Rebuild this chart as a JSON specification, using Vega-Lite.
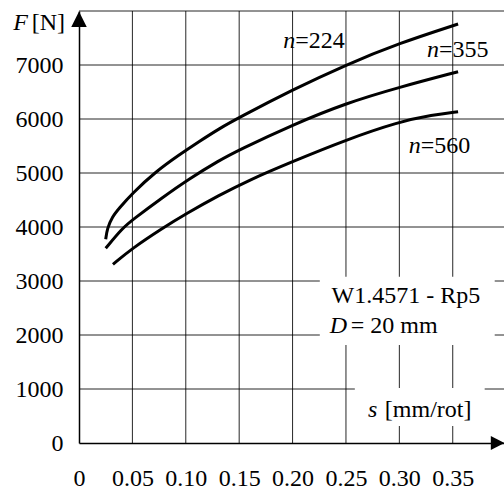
{
  "$schema": "https://vega.github.io/schema/vega-lite/v6.json",
  "width": 425,
  "height": 432,
  "autosize": {"type": "none"},
  "padding": {"left": 79, "top": 11, "right": 0, "bottom": 52},
  "background": "white",
  "view": {"stroke": null},
  "config": {
    "font": "Liberation Serif",
    "axis": {"labelFont": "Liberation Serif", "grid": false}
  },
  "datasets": {
    "gridx": [
      {"s": 0.05}, {"s": 0.1}, {"s": 0.15}, {"s": 0.2}, {"s": 0.25}, {"s": 0.3}, {"s": 0.35}
    ],
    "gridy": [
      {"F": 1000}, {"F": 2000}, {"F": 3000}, {"F": 4000}, {"F": 5000}, {"F": 6000}, {"F": 7000}, {"F": 8000}
    ],
    "curves": [
      {"n": "224", "s": 0.025, "F": 3772},
      {"n": "224", "s": 0.0265, "F": 3976},
      {"n": "224", "s": 0.0312, "F": 4191},
      {"n": "224", "s": 0.0375, "F": 4346},
      {"n": "224", "s": 0.0499, "F": 4624},
      {"n": "224", "s": 0.0718, "F": 5024},
      {"n": "224", "s": 0.0936, "F": 5333},
      {"n": "224", "s": 0.1123, "F": 5580},
      {"n": "224", "s": 0.131, "F": 5818},
      {"n": "224", "s": 0.1497, "F": 6024},
      {"n": "224", "s": 0.1996, "F": 6537},
      {"n": "224", "s": 0.2496, "F": 7000},
      {"n": "224", "s": 0.2996, "F": 7402},
      {"n": "224", "s": 0.355, "F": 7759},
      {"n": "355", "s": 0.025, "F": 3606},
      {"n": "355", "s": 0.0405, "F": 3976},
      {"n": "355", "s": 0.0499, "F": 4130},
      {"n": "355", "s": 0.078, "F": 4545},
      {"n": "355", "s": 0.103, "F": 4890},
      {"n": "355", "s": 0.131, "F": 5230},
      {"n": "355", "s": 0.1497, "F": 5426},
      {"n": "355", "s": 0.1996, "F": 5889},
      {"n": "355", "s": 0.2496, "F": 6291},
      {"n": "355", "s": 0.2996, "F": 6587},
      {"n": "355", "s": 0.355, "F": 6876},
      {"n": "560", "s": 0.0318, "F": 3309},
      {"n": "560", "s": 0.0499, "F": 3606},
      {"n": "560", "s": 0.078, "F": 3976},
      {"n": "560", "s": 0.0998, "F": 4241},
      {"n": "560", "s": 0.131, "F": 4585},
      {"n": "560", "s": 0.1593, "F": 4870},
      {"n": "560", "s": 0.1996, "F": 5209},
      {"n": "560", "s": 0.2496, "F": 5611},
      {"n": "560", "s": 0.2996, "F": 5950},
      {"n": "560", "s": 0.3308, "F": 6074},
      {"n": "560", "s": 0.355, "F": 6135}
    ],
    "boxes": [
      {"s1": 0.2255, "s2": 0.3893, "F1": 3080, "F2": 1815},
      {"s1": 0.2583, "s2": 0.3799, "F1": 1019, "F2": 315}
    ],
    "italic": [
      {"s": 0.1912, "F": 7315, "t": "n"},
      {"s": 0.3259, "F": 7154, "t": "n"},
      {"s": 0.3088, "F": 5364, "t": "n"},
      {"s": 0.2349, "F": 2031, "t": "D"},
      {"s": 0.2707, "F": 487, "t": "s"},
      {"s": -0.0615, "F": 7648, "t": "F"}
    ],
    "regular": [
      {"s": 0.2024, "F": 7315, "t": "=224"},
      {"s": 0.3371, "F": 7154, "t": "=355"},
      {"s": 0.32, "F": 5364, "t": "=560"},
      {"s": 0.2365, "F": 2587, "t": "W1.4571 - Rp5"},
      {"s": 0.2545, "F": 2031, "t": "= 20 mm"},
      {"s": 0.2864, "F": 487, "t": "[mm/rot]"},
      {"s": -0.0443, "F": 7648, "t": "[N]"}
    ],
    "arrows": [
      {"s": 0, "F": 7848, "dir": "up"},
      {"s": 0.3921, "F": 0, "dir": "right"}
    ]
  },
  "layer": [
    {
      "data": {"name": "gridx"},
      "mark": {"type": "rule", "color": "black", "strokeWidth": 1, "opacity": 0.85},
      "encoding": {
        "x": {
          "field": "s", "type": "quantitative",
          "scale": {"domain": [0, 0.398], "nice": false, "zero": false},
          "axis": {
            "values": [0, 0.05, 0.1, 0.15, 0.2, 0.25, 0.3, 0.35],
            "grid": false,
            "domainColor": "black",
            "domainWidth": 1.5,
            "ticks": false,
            "title": null,
            "labelFont": "Liberation Serif",
            "labelFontSize": 24,
            "labelColor": "black",
            "labelFlush": false,
            "labelOverlap": false,
            "labelBound": false,
            "labelPadding": 23,
            "labelExpr": "datum.value == 0 ? '0' : format(datum.value, '.2f')"
          }
        }
      }
    },
    {
      "data": {"name": "gridy"},
      "mark": {"type": "rule", "color": "black", "strokeWidth": 1, "opacity": 0.85},
      "encoding": {
        "y": {
          "field": "F", "type": "quantitative",
          "scale": {"domain": [0, 8000], "nice": false},
          "axis": {
            "values": [0, 1000, 2000, 3000, 4000, 5000, 6000, 7000, 8000],
            "grid": false,
            "domainColor": "black",
            "domainWidth": 1.5,
            "ticks": false,
            "title": null,
            "labelFont": "Liberation Serif",
            "labelFontSize": 24,
            "labelColor": "black",
            "labelFlush": false,
            "labelOverlap": false,
            "labelBound": false,
            "labelPadding": 16,
            "format": "d",
            "labelExpr": "datum.value == 8000 ? '' : datum.label"
          }
        }
      }
    },
    {
      "data": {"name": "curves"},
      "mark": {"type": "line", "color": "black", "strokeWidth": 3, "interpolate": "basis"},
      "encoding": {
        "x": {"field": "s", "type": "quantitative"},
        "y": {"field": "F", "type": "quantitative"},
        "detail": {"field": "n", "type": "nominal"}
      }
    },
    {
      "data": {"name": "boxes"},
      "mark": {"type": "rect", "color": "white", "opacity": 1},
      "encoding": {
        "x": {"field": "s1", "type": "quantitative"},
        "x2": {"field": "s2"},
        "y": {"field": "F1", "type": "quantitative"},
        "y2": {"field": "F2"}
      }
    },
    {
      "data": {"name": "italic"},
      "mark": {"type": "text", "font": "Liberation Serif", "fontSize": 24, "fontStyle": "italic", "align": "left", "baseline": "alphabetic", "color": "black"},
      "encoding": {
        "x": {"field": "s", "type": "quantitative"},
        "y": {"field": "F", "type": "quantitative"},
        "text": {"field": "t"}
      }
    },
    {
      "data": {"name": "regular"},
      "mark": {"type": "text", "font": "Liberation Serif", "fontSize": 24, "align": "left", "baseline": "alphabetic", "color": "black"},
      "encoding": {
        "x": {"field": "s", "type": "quantitative"},
        "y": {"field": "F", "type": "quantitative"},
        "text": {"field": "t"}
      }
    },
    {
      "data": {"name": "arrows"},
      "transform": [{"filter": "datum.dir == 'up'"}],
      "mark": {"type": "point", "shape": "M0,-1L1,1L-1,1Z", "size": 240, "filled": true, "color": "black", "opacity": 1},
      "encoding": {
        "x": {"field": "s", "type": "quantitative"},
        "y": {"field": "F", "type": "quantitative"}
      }
    },
    {
      "data": {"name": "arrows"},
      "transform": [{"filter": "datum.dir == 'right'"}],
      "mark": {"type": "point", "shape": "M1,0L-1,-1L-1,1Z", "size": 190, "filled": true, "color": "black", "opacity": 1},
      "encoding": {
        "x": {"field": "s", "type": "quantitative"},
        "y": {"field": "F", "type": "quantitative"}
      }
    }
  ]
}
